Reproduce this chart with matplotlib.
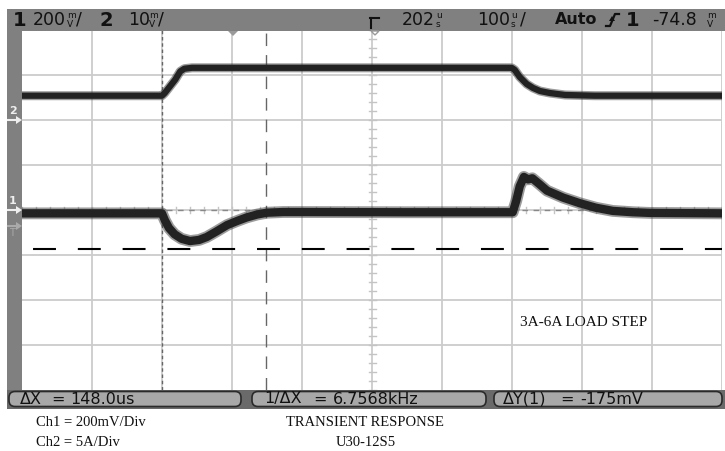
import numpy as np
import matplotlib.pyplot as plt
from matplotlib.patches import Rectangle, FancyBboxPatch, Polygon

###############################################################################
#   SCOPE SETTINGS AND TRACES
###############################################################################
ch1_scale = 200.0   # mV/div
ch2_scale = 5.0     # A/div
ch1_pos = 0.0       # div, ground marker of ch1
ch2_pos = 2.0       # div, ground marker of ch2
t_center = 202.0    # us, horizontal delay
t_div = 100.0       # us/div

# Ch1 = output voltage deviation (mV)
ch1_t = [-298, -98, -94, -88, -80, -70, -58, -45, -34, -20, -5, 10, 23, 38, 52,
         75, 99, 250, 403, 408, 413, 419, 425, 431, 440, 452, 475, 499, 522,
         546, 575, 600, 650, 702]
ch1_mv = [-15, -15, -45, -80, -108, -128, -138, -133, -120, -95, -67, -48, -33,
          -20, -12, -9, -9, -10, -10, 40, 105, 147, 136, 141, 118, 86, 55, 30,
          10, -4, -10, -13, -14, -15]

# Ch2 = load current (A)
ch2_t = [-298, -98, -94, -86, -79, -72, -66, -55, 0, 399, 402, 406, 413, 423,
         432, 442, 456, 478, 520, 702]
ch2_a = [2.7, 2.7, 3.0, 3.8, 4.5, 5.4, 5.7, 5.8, 5.8, 5.8, 5.78, 5.56, 4.78,
         4.0, 3.56, 3.22, 3.0, 2.78, 2.7, 2.7]

# cursors
cur_x = [-98.0, 50.0]     # us
cur_y = [0.0, -175.0]     # mV (ch1)

###############################################################################
#   SCREEN
###############################################################################
fig = plt.figure(figsize=(7.25, 4.51), dpi=100)
ax = fig.add_axes([22/725, 61/451, 700/725, 360/451])
t_left = t_center - 5*t_div
ax.set_xlim(t_left, t_center + 5*t_div)
ax.set_ylim(-4, 4)
ax.set_xticks([])
ax.set_yticks([])
for s in ax.spines.values():
    s.set_visible(False)

grid_c = '#cccccc'
for i in range(1, 11):
    ax.axvline(t_left + i*t_div, color=grid_c, lw=1.3, zorder=1)
for j in range(-3, 4):
    ax.axhline(j, color=grid_c, lw=1.3, zorder=1)

# minor ticks on the centre axes
for k in range(-25, 26):
    tt = t_center + k*t_div/5
    ax.plot([tt, tt], [-0.06, 0.06], color='#c4c4c4', lw=1, zorder=1)
for k in range(-20, 21):
    yy = k/5
    ax.plot([t_center-5, t_center+5], [yy, yy], color='#c4c4c4', lw=1, zorder=1)

# cursors
ax.axvline(cur_x[0], color='#666666', lw=1, ls=(0, (2.5, 2)), zorder=2)
ax.axvline(cur_x[1], color='#666666', lw=1, ls=(0, (9, 6.5)), zorder=2)
ax.axhline(cur_y[0]/ch1_scale + ch1_pos, color='#888888', lw=1, ls=(0, (4, 4)), zorder=2)
ax.axhline(cur_y[1]/ch1_scale + ch1_pos, color='black', lw=1.5,
           ls=(16.2, (11, 10.5)), zorder=2)

# traces
y1 = np.array(ch1_mv)/ch1_scale + ch1_pos
y2 = np.array(ch2_a)/ch2_scale + ch2_pos
ax.plot(ch1_t, y1, color='#3a3a3a', lw=8.5, alpha=0.5, solid_joinstyle='round', zorder=3)
ax.plot(ch1_t, y1, color='#222222', lw=6, solid_joinstyle='round', zorder=4)
ax.plot(ch2_t, y2, color='#3a3a3a', lw=6.5, alpha=0.5, solid_joinstyle='round', zorder=3)
ax.plot(ch2_t, y2, color='#222222', lw=4.5, solid_joinstyle='round', zorder=4)

###############################################################################
#   FRAME, STATUS BARS AND LABELS (pixel coordinates)
###############################################################################
ov = fig.add_axes([0, 0, 1, 1], zorder=5)
ov.set_xlim(0, 725)
ov.set_ylim(451, 0)
ov.axis('off')
ov.patch.set_alpha(0)

bar_c = '#808080'
ov.add_patch(Rectangle((7, 9), 718, 22, fc=bar_c, ec='none'))
ov.add_patch(Rectangle((7, 9), 15, 381, fc=bar_c, ec='none'))
ov.add_patch(Rectangle((7, 390), 718, 19, fc='#6a6a6a', ec='none'))

for x0, x1 in [(9, 241), (252, 486), (494, 722)]:
    ov.add_patch(FancyBboxPatch((x0, 391.5), x1 - x0, 15,
                                boxstyle='round,pad=0,rounding_size=6',
                                fc='#a8a8a8', ec='#2a2a2a', lw=1.2))

mono = dict(family='DejaVu Sans', color='#111111', va='center')

# top bar
def stacked(x, top, bot):
    ov.text(x, 15.5, top, fontsize=6.5, ha='left', **mono)
    ov.text(x, 24.5, bot, fontsize=6.5, ha='left', **mono)

ov.text(13, 20, '1', fontsize=14, weight='bold', ha='left', **mono)
ov.text(33, 20, '200', fontsize=12.5, ha='left', **mono)
stacked(67, 'm', 'V')
ov.text(76, 20, '/', fontsize=12.5, ha='left', **mono)
ov.text(100, 20, '2', fontsize=14, weight='bold', ha='left', **mono)
ov.text(128, 20, '10', fontsize=12.5, ha='left', **mono)
stacked(149, 'm', 'V')
ov.text(158, 20, '/', fontsize=12.5, ha='left', **mono)

ov.plot([370, 379], [18, 18], color='#111111', lw=1.5)
ov.plot([371, 371], [18, 28], color='#111111', lw=1.5)
ov.text(402, 20, '202', fontsize=12.5, ha='left', **mono)
stacked(436, 'u', 's')
ov.text(477, 20, '100', fontsize=12.5, ha='left', **mono)
stacked(511, 'u', 's')
ov.text(520, 20, '/', fontsize=12.5, ha='left', **mono)
ov.text(555, 20, 'Auto', fontsize=11.5, weight='bold', ha='left', **mono)
ov.plot([606, 610, 615, 619], [26, 26, 14, 14], color='#111111', lw=1.6)
ov.add_patch(Polygon([[609, 21], [615, 21], [612, 16]], fc='#111111', ec='none'))
ov.text(626, 20, '1', fontsize=14, weight='bold', ha='left', **mono)
ov.text(652, 20, '-74.8', fontsize=12.5, ha='left', **mono)
stacked(707, 'm', 'V')

# screen markers
ov.add_patch(Polygon([[228, 31], [238, 31], [233, 36]], fc='#9a9a9a', ec='none'))
ov.add_patch(Polygon([[371, 31], [379, 31], [375, 35]], fc='white', ec='#999999', lw=1))

def ground_marker(y, label, c):
    ov.text(13, y - 9, label, fontsize=8, weight='bold', ha='center', va='center',
            color=c)
    ov.plot([8, 17], [y, y], color=c, lw=1.5)
    ov.add_patch(Polygon([[16, y - 4], [22, y], [16, y + 4]], fc=c, ec='none'))

ground_marker(210 - ch2_pos*45, '2', '#eeeeee')
ground_marker(210 - ch1_pos*45, '1', '#eeeeee')
ov.plot([8, 17], [226, 226], color='#aaaaaa', lw=1.5)
ov.add_patch(Polygon([[16, 222], [22, 226], [16, 230]], fc='#aaaaaa', ec='none'))
ov.text(12, 233, 'T', fontsize=7, ha='center', va='center', color='#aaaaaa')

# bottom measurement bar
bfs = 11.5
ov.text(20, 399, '\u0394X', fontsize=bfs, ha='left', **mono)
ov.text(51, 399, '=', fontsize=bfs, ha='left', **mono)
ov.text(70, 399, '148.0us', fontsize=bfs, ha='left', **mono)
ov.text(264, 399, '1/\u0394X', fontsize=bfs, ha='left', **mono)
ov.text(313, 399, '=', fontsize=bfs, ha='left', **mono)
ov.text(333, 399, '6.7568kHz', fontsize=bfs, ha='left', **mono)
ov.text(503, 399, '\u0394Y(1)', fontsize=bfs, ha='left', **mono)
ov.text(560, 399, '=', fontsize=bfs, ha='left', **mono)
ov.text(580, 399, '-175mV', fontsize=bfs, ha='left', **mono)

# annotations
serif = dict(family='Liberation Serif', color='#111111', va='center')
ov.text(520, 322, '3A-6A LOAD STEP', fontsize=11, ha='left', **serif)
ov.text(36, 422, 'Ch1 = 200mV/Div', fontsize=10.5, ha='left', **serif)
ov.text(36, 443, 'Ch2 = 5A/Div', fontsize=10.5, ha='left', **serif)
ov.text(365, 422, 'TRANSIENT RESPONSE', fontsize=10.5, ha='center', **serif)
ov.text(366, 443, 'U30-12S5', fontsize=10.5, ha='center', **serif)

fig.savefig('out.png', dpi=100)
